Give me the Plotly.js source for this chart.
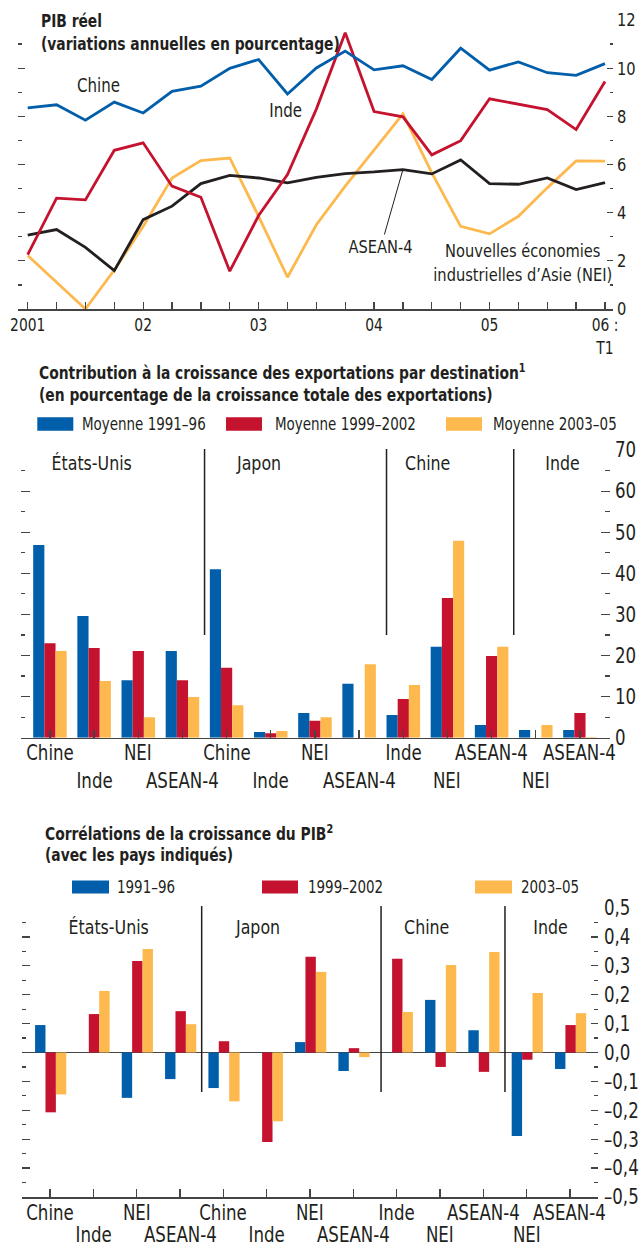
<!DOCTYPE html>
<html><head><meta charset="utf-8">
<script src="https://cdn.plot.ly/plotly-3.0.1.min.js"></script>
<style>html,body{margin:0;padding:0;background:#fff}#chart{width:640px;height:1248px}</style>
</head><body><div id="chart"></div>
<script>
// ---------- DATA ----------
// Panel 1: PIB réel (variations annuelles en pourcentage), trimestriel 2001:T1 – 2006:T1
const quarters = ['2001T1','2001T2','2001T3','2001T4','2002T1','2002T2','2002T3','2002T4','2003T1','2003T2','2003T3','2003T4','2004T1','2004T2','2004T3','2004T4','2005T1','2005T2','2005T3','2005T4','2006T1'];
const yearTickIdx = [0,4,8,12,16,20];
const yearTickText = ['2001','02','03','04','05','06 :<br>T1'];
const gdpChine = [8.35,8.48,7.84,8.59,8.14,9.04,9.25,9.99,10.36,8.93,10.01,10.71,9.93,10.10,9.53,10.83,9.92,10.26,9.81,9.70,10.19];
const gdpInde  = [2.26,4.60,4.53,6.59,6.90,5.10,4.64,1.57,3.88,5.58,8.30,11.47,8.20,7.98,6.40,6.99,8.73,8.49,8.28,7.45,9.45];
const gdpNEI   = [2.22,1.10,0.00,1.62,3.43,5.44,6.16,6.27,3.85,1.32,3.50,5.10,6.62,8.10,5.65,3.43,3.12,3.85,5.03,6.15,6.14];
const gdpASEAN = [3.07,3.30,2.56,1.59,3.71,4.27,5.21,5.55,5.44,5.24,5.47,5.62,5.69,5.79,5.61,6.19,5.21,5.18,5.44,4.96,5.25];
const gdpTickVals = [0,2,4,6,8,10,12];

// Panels 2 & 3: destinations grouped by partner country
const partnerGroups = ['États-Unis','Japon','Chine','Inde'];
const destinations = ['Chine','Inde','NEI','ASEAN-4','Chine','Inde','NEI','ASEAN-4','Inde','NEI','ASEAN-4','NEI','ASEAN-4'];

// Panel 2: Contribution à la croissance des exportations (% de la croissance totale)
const exportSeriesNames = ['Moyenne 1991–96','Moyenne 1999–2002','Moyenne 2003–05'];
const exp9196 = [46.9,29.6,14.0,21.1,41.0,1.4,6.0,13.1,5.5,22.1,3.1,1.9,1.9];
const exp9902 = [23.0,21.8,21.1,14.0,17.0,1.1,4.1,0.0,9.4,34.0,19.9,0.0,6.0];
const exp0305 = [21.1,13.8,5.0,9.9,7.9,1.6,5.0,17.9,12.8,47.9,22.1,3.1,0.2];
const expTickVals = [0,10,20,30,40,50,60,70];

// Panel 3: Corrélations de la croissance du PIB
const corrSeriesNames = ['1991–96','1999–2002','2003–05'];
const corr9196 = [0.095,0.0,-0.157,-0.092,-0.123,0.0,0.036,-0.064,0.0,0.182,0.077,-0.289,-0.057];
const corr9902 = [-0.207,0.133,0.317,0.143,0.039,-0.310,0.331,0.015,0.324,-0.050,-0.067,-0.025,0.095];
const corr0305 = [-0.145,0.213,0.358,0.098,-0.169,-0.238,0.279,-0.016,0.140,0.303,0.348,0.206,0.136];
const corrTickVals = [0.5,0.4,0.3,0.2,0.1,0,-0.1,-0.2,-0.3,-0.4,-0.5];
const corrTickText = ['0,5','0,4','0,3','0,2','0,1','0,0','–0,1','–0,2','–0,3','–0,4','–0,5'];

// ---------- STYLE ----------
const FONT = "'DejaVu Sans Condensed','Liberation Sans Narrow',sans-serif";
const TXT = '#231F20', AX = '#444';
const BLUE = '#005EAA', RED = '#C4122F', YEL = '#FDB94E', BLK = '#231F20';
const SQUEEZE = 0.88;            // horizontal condensing of all texts
const W = 640, H = 1248;
const fx = p => p / W;
const fy = p => 1 - p / H;
const f = (size, bold) => ({family:FONT, size, color:TXT, weight: bold ? 'bold' : 'normal'});

const qIdx = quarters.map((_, i) => i);
const dIdx = destinations.map((_, i) => i);

const traces = [
  {x: qIdx, y: gdpNEI, xaxis:'x', yaxis:'y', mode:'lines', line:{color:YEL, width:2.8}, hoverinfo:'skip'},
  {x: qIdx, y: gdpASEAN, xaxis:'x', yaxis:'y', mode:'lines', line:{color:BLK, width:2.8}, hoverinfo:'skip'},
  {x: qIdx, y: gdpInde, xaxis:'x', yaxis:'y', mode:'lines', line:{color:RED, width:2.8}, hoverinfo:'skip'},
  {x: qIdx, y: gdpChine, xaxis:'x', yaxis:'y', mode:'lines', line:{color:BLUE, width:2.8}, hoverinfo:'skip'},
  {x: [], y: [], xaxis:'x', yaxis:'y4', mode:'lines', hoverinfo:'skip'},
];
const barColors = [BLUE, RED, YEL];
[exp9196, exp9902, exp0305].forEach((vals, k) => {
  traces.push({type:'bar', x:dIdx, y:vals, name:exportSeriesNames[k], xaxis:'x2', yaxis:'y2',
    marker:{color:barColors[k], line:{width:0}}, width:0.253, offset:-0.38 + k*0.253, hoverinfo:'skip'});
});
traces.push({x: [], y: [], xaxis:'x2', yaxis:'y5', mode:'lines', hoverinfo:'skip'});
[corr9196, corr9902, corr0305].forEach((vals, k) => {
  traces.push({type:'bar', x:dIdx, y:vals, name:corrSeriesNames[k], xaxis:'x3', yaxis:'y3',
    marker:{color:barColors[k], line:{width:0}}, width:0.24, offset:-0.345 + k*0.24, hoverinfo:'skip'});
});
traces.push({x: [], y: [], xaxis:'x3', yaxis:'y6', mode:'lines', hoverinfo:'skip'});

const axisBase = {showgrid:false, zeroline:false, fixedrange:true};
const xBase = {ticks:'inside', ticklen:8, tickwidth:1.3, tickcolor:AX, showline:true, linecolor:AX, linewidth:1.5};
const minorT = (dtick, len) => ({tickmode:'linear', tick0:0, dtick, ticks:'inside', ticklen:len, tickcolor:AX, tickwidth:1.2});

const layout = {
  width: W, height: H, margin:{l:0,r:0,t:0,b:0}, showlegend:false,
  paper_bgcolor:'#fff', plot_bgcolor:'rgba(0,0,0,0)',
  font:{family:FONT, size:18, color:TXT},
  // ---- Panel 1
  xaxis: Object.assign({}, axisBase, xBase, {domain:[fx(18), fx(613)], anchor:'y', range:[-0.336, 20.277],
    tickmode:'array', tickvals:yearTickIdx, ticktext:yearTickText, ticklen:7,
    minor:{tickmode:'linear', tick0:0, dtick:1, ticks:'inside', ticklen:7, tickcolor:AX, tickwidth:1.3},
    tickfont:f(17.5)}),
  yaxis: Object.assign({}, axisBase, {domain:[fy(309), fy(20)], anchor:'x', side:'right', range:[0,12],
    tickmode:'array', tickvals:gdpTickVals, ticks:'inside', ticklen:6, tickwidth:1.2, tickcolor:AX,
    minor:minorT(1, 3), showline:false, tickfont:f(18.5), ticklabelstandoff:3}),
  yaxis4: Object.assign({}, axisBase, {overlaying:'y', anchor:'x', side:'left', range:[0,12],
    tickmode:'linear', tick0:0, dtick:2, ticks:'inside', ticklen:7, tickwidth:1.2, tickcolor:AX,
    minor:minorT(1, 4), showline:false, showticklabels:false}),
  // ---- Panel 2
  xaxis2: Object.assign({}, axisBase, xBase, {domain:[fx(21), fx(610)], anchor:'y2', range:[-0.656, 12.68],
    tickmode:'array', tickvals:dIdx, showticklabels:false}),
  yaxis2: Object.assign({}, axisBase, {domain:[fy(737.7), fy(450)], anchor:'x2', side:'right',
    range:[0,70], tickmode:'array', tickvals:expTickVals, ticks:'inside', ticklen:9, tickwidth:1.2, tickcolor:AX,
    minor:minorT(5, 5), showline:false, tickfont:f(21), ticklabelstandoff:4}),
  yaxis5: Object.assign({}, axisBase, {overlaying:'y2', anchor:'x2', side:'left', range:[0,70],
    tickmode:'linear', tick0:0, dtick:10, ticks:'inside', ticklen:9, tickwidth:1.2, tickcolor:AX,
    minor:minorT(5, 4), showline:false, showticklabels:false}),
  // ---- Panel 3
  xaxis3: Object.assign({}, axisBase, xBase, {domain:[fx(22), fx(598)], anchor:'y3', range:[-0.647, 12.647],
    tickmode:'array', tickvals:dIdx, showticklabels:false}),
  yaxis3: Object.assign({}, axisBase, {domain:[fy(1197), fy(908)], anchor:'x3', side:'right',
    range:[-0.5,0.5], tickmode:'array', tickvals:corrTickVals, ticktext:corrTickText,
    ticks:'inside', ticklen:7, tickwidth:1.2, tickcolor:AX, minor:minorT(0.05, 4),
    zeroline:true, zerolinecolor:AX, zerolinewidth:1.5,
    showline:false, tickfont:f(21), ticklabelstandoff:5}),
  yaxis6: Object.assign({}, axisBase, {overlaying:'y3', anchor:'x3', side:'left', range:[-0.5,0.5],
    tickmode:'linear', tick0:0, dtick:0.1, ticks:'inside', ticklen:8, tickwidth:1.2, tickcolor:AX,
    minor:minorT(0.05, 4), showline:false, showticklabels:false}),
  shapes: [], annotations: []
};

const A = layout.annotations, S = layout.shapes;
const left = (text, x, y, font) => A.push({text, x, y, xref:'paper', yref:'paper', xanchor:'left', align:'left',
  yanchor:'middle', showarrow:false, font});
const center = (text, x, y, font) => A.push({text, x, y, xref:'paper', yref:'paper', xanchor:'center', align:'center',
  yanchor:'middle', showarrow:false, font});

// Panel 1 titles & labels
left('<b>PIB réel</b>', fx(39), fy(21), f(17.5, true));
left('<b>(variations annuelles en pourcentage)</b>', fx(39), fy(44), f(17.5, true));
center('Chine', fx(98), fy(85), f(19));
center('Inde', fx(285), fy(110), f(19));
center('Nouvelles économies<br>industrielles d’Asie (NEI)', fx(523), fy(262), f(18.5));
A.push({text:'ASEAN-4', xref:'x', yref:'y', x:13, y:gdpASEAN[13], ax:-22, ay:77, showarrow:true,
  arrowhead:0, arrowwidth:1, arrowcolor:TXT, standoff:0, font:f(18.5)});

// Panel 2 titles & legend
left('<b>Contribution à la croissance des exportations par destination<sup>1</sup></b>', fx(37), fy(372), f(17.5, true));
left('<b>(en pourcentage de la croissance totale des exportations)</b>', fx(37), fy(395), f(17.5, true));
[[37.3,73.3,80],[226,262,273],[446,482,491]].forEach((p, k) => {
  S.push({type:'rect', xref:'paper', yref:'paper', x0:fx(p[0]), x1:fx(p[1]), y0:fy(430.7), y1:fy(417.3), fillcolor:barColors[k], line:{width:0}});
  left(exportSeriesNames[k], fx(p[2]), fy(424), f(17));
});
// Panel 3 titles & legend
left('<b>Corrélations de la croissance du PIB<sup>2</sup></b>', fx(43), fy(833), f(17.5, true));
left('<b>(avec les pays indiqués)</b>', fx(43), fy(855), f(17.5, true));
[[72,109,115],[262,298,306],[475,512,519]].forEach((p, k) => {
  S.push({type:'rect', xref:'paper', yref:'paper', x0:fx(p[0]), x1:fx(p[1]), y0:fy(893.5), y1:fy(880.5), fillcolor:barColors[k], line:{width:0}});
  left(corrSeriesNames[k], fx(p[2]), fy(887), f(17));
});

// group separators, group names, destination labels
[['x2', 449, 635, 463, 753, 781, [0.93,4.73,8.55,11.6], [3.5,7.62,10.5]],
 ['x3', 906, 1092, 927, 1213, null, [1.36,4.78,8.68,11.55], [3.5,7.64,10.5]]]
.forEach(([xr, sTop, sBot, gY, r1, r2, gc, seps]) => {
  seps.forEach(s => S.push({type:'line', xref:xr, yref:'paper', x0:s, x1:s, y0:fy(sTop), y1:fy(sBot), line:{color:BLK, width:1.5}}));
  partnerGroups.forEach((g, i) => A.push({text:g, xref:xr, yref:'paper', x:gc[i], y:fy(gY), showarrow:false,
    xanchor:'center', yanchor:'middle', font:f(20)}));
  destinations.forEach((d, i) => {
    const row2 = i % 2 === 1;
    if (row2 && r2 === null) {
      A.push({text:d, xref:xr, yref:'paper', x:i, y:0, showarrow:false, borderpad:0,
        xanchor:'center', yanchor:'bottom', font:f(21)});
    } else {
      A.push({text:d, xref:xr, yref:'paper', x:i, y:fy(row2 ? r2 : r1), showarrow:false,
        xanchor:'center', yanchor:'middle', font:f(21)});
    }
  });
});

Plotly.newPlot('chart', traces, layout, {staticPlot:true, displayModeBar:false}).then(() => {
  document.querySelectorAll('#chart text').forEach(el => {
    if (!el.textContent.trim()) return;
    const x = parseFloat(el.getAttribute('x')) || 0;
    const t = el.getAttribute('transform') || '';
    el.setAttribute('transform', `${t} translate(${x},0) scale(${SQUEEZE},1) translate(${-x},0)`);
  });
});
</script></body></html>
